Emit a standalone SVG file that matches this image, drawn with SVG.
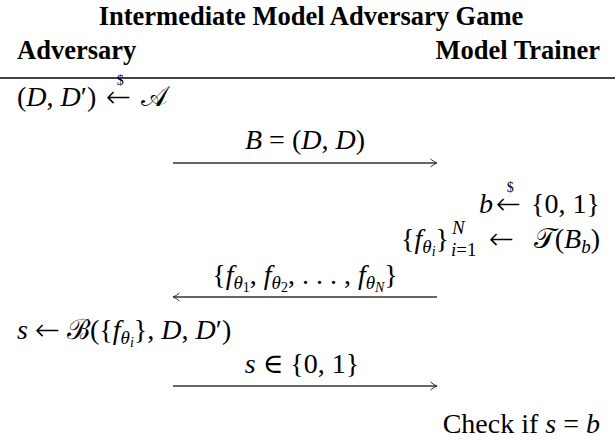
<svg xmlns="http://www.w3.org/2000/svg" width="615" height="441" viewBox="0 0 615 441">
<style>
text{font-family:"Liberation Serif","DejaVu Serif",serif;fill:#000}
.h{font-weight:bold;font-size:26.5px}
.m{font-size:28px}
.i{font-style:italic}
.s{font-size:19px}
.ss{font-size:14px}
.d{font-family:"Liberation Serif",serif;font-weight:normal;font-size:14px;fill:#000}
.ar{font-family:"DejaVu Sans ExtraLight","DejaVu Sans",sans-serif;font-weight:200;font-size:30px;font-style:normal}
.conn line{stroke:#333;stroke-width:1.3;fill:none}
.rule{stroke:#444;stroke-width:2}
</style>
<defs>
<marker id="ah" markerWidth="10" markerHeight="10" refX="8" refY="5" orient="auto" markerUnits="userSpaceOnUse"><path d="M1.5,1 Q5,4 8,5 Q5,6 1.5,9" fill="none" stroke="#333" stroke-width="1"/></marker>
</defs>
<rect width="615" height="441" fill="#fff"/>
<g id="title"><text class="h" x="311" y="25" text-anchor="middle">Intermediate Model Adversary Game</text></g>
<g id="adversary"><text class="h" x="17" y="59">Adversary</text></g>
<g id="trainer"><text class="h" x="600" y="59" text-anchor="end">Model Trainer</text></g>
<line class="rule" x1="0" y1="78" x2="615" y2="78"/>
<g id="adv-sample">
<text class="m" x="17" y="106">(<tspan class="i">D</tspan>, <tspan class="i">D</tspan>′)</text>
<text class="ar" x="106" y="107">←<tspan class="d" dx="-14.5" dy="-22">$</tspan></text>
<text class="m" x="141" y="106">𝒜</text>
</g>
<g id="msg1"><text class="m" x="305" y="149" text-anchor="middle"><tspan class="i">B</tspan> = (<tspan class="i">D</tspan>, <tspan class="i">D</tspan>)</text></g>
<g id="trainer-bit">
<text class="m i" x="493" y="213" text-anchor="end">b</text>
<text class="ar" x="496" y="214">←<tspan class="d" dx="-14.5" dy="-22">$</tspan></text>
<text class="m" x="600" y="213" text-anchor="end">{0, 1}</text>
</g>
<g id="trainer-train">
<text class="m" x="449" y="248" text-anchor="end">{<tspan class="i">f</tspan><tspan class="i s" dy="5">θ</tspan><tspan class="i ss" dy="3">i</tspan><tspan dy="-8">}</tspan></text>
<text class="s i" x="452" y="234">N</text>
<text class="s" x="451" y="256"><tspan class="i">i</tspan>=1</text>
<text class="ar" x="489" y="249">←</text>
<text class="m" x="600" y="248" text-anchor="end">𝒯(<tspan class="i">B</tspan><tspan class="i s" dy="5">b</tspan><tspan dy="-5">)</tspan></text>
</g>
<g id="msg2"><text class="m" x="305" y="284" text-anchor="middle">{<tspan class="i">f</tspan><tspan class="i s" dy="5">θ</tspan><tspan class="ss" dy="3">1</tspan><tspan dy="-8">, </tspan><tspan class="i">f</tspan><tspan class="i s" dy="5">θ</tspan><tspan class="ss" dy="3">2</tspan><tspan dy="-8">, . . . , </tspan><tspan class="i">f</tspan><tspan class="i s" dy="5">θ</tspan><tspan class="i ss" dy="3">N</tspan><tspan dy="-8">}</tspan></text></g>
<g id="adv-guess"><text class="m" x="17" y="339"><tspan class="i">s</tspan> <tspan class="ar" dy="1">←</tspan> <tspan dy="-1">ℬ({</tspan><tspan class="i">f</tspan><tspan class="i s" dy="5">θ</tspan><tspan class="i ss" dy="3">i</tspan><tspan dy="-8">}, </tspan><tspan class="i">D</tspan>, <tspan class="i">D</tspan>′)</text></g>
<g id="msg3"><text class="m" x="302" y="373" text-anchor="middle"><tspan class="i">s</tspan> ∈ {0, 1}</text></g>
<g id="check"><text class="m" x="600" y="433" text-anchor="end">Check if <tspan class="i">s</tspan> = <tspan class="i">b</tspan></text></g>
<g id="connectors" class="conn">
<line x1="173" y1="163" x2="437" y2="163" marker-end="url(#ah)"/>
<line x1="437" y1="297" x2="173" y2="297" marker-end="url(#ah)"/>
<line x1="173" y1="386" x2="437" y2="386" marker-end="url(#ah)"/>
</g>
</svg>
